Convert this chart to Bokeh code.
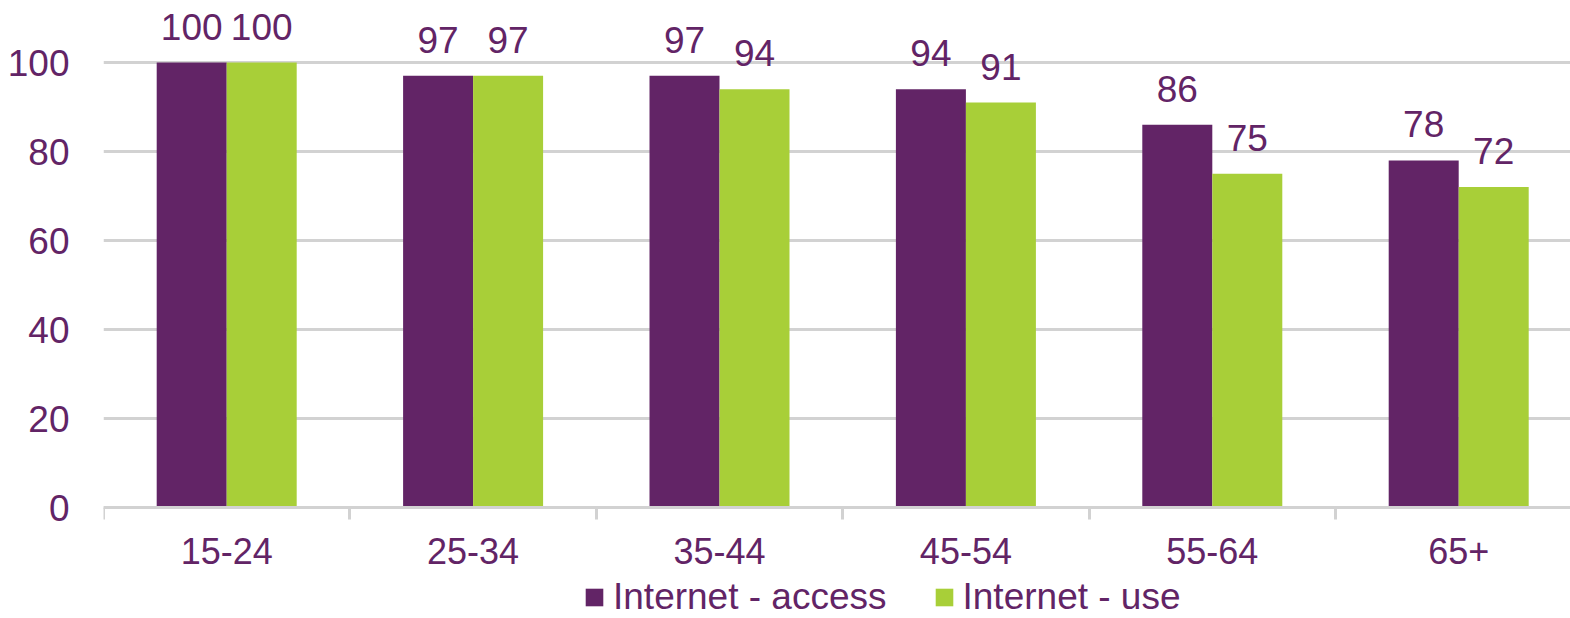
from bokeh.plotting import figure
from bokeh.models import ColumnDataSource, Range1d, FixedTicker, Legend, LegendItem, LinearAxis
from bokeh.transform import dodge
from bokeh.core.properties import value
from bokeh.embed import file_html
from bokeh.resources import INLINE
import numpy as np

categories = ["15-24", "25-34", "35-44", "45-54", "55-64", "65+"]
internet_access = [100, 97, 97, 94, 86, 78]
internet_use = [100, 97, 94, 91, 75, 72]
y_ticks = [0, 20, 40, 60, 80, 100]

PURPLE = "#622466"
GREEN = "#A8CF38"
GRID = "#D2D2D2"
FONT = "Liberation Sans"

xc = (np.arange(len(categories)) + 0.5).tolist()
src = ColumnDataSource(dict(x=xc, access=internet_access, use=internet_use,
                            access_t=[str(v) for v in internet_access],
                            use_t=[str(v) for v in internet_use]))

W, H = 1570, 618
left = 103
zero_px, hundred_px = 507, 62
px_per_unit = (zero_px - hundred_px) / 100.0
y_end = zero_px / px_per_unit
y_start = -(H - zero_px) / px_per_unit
cat_w = 246.4
x_end = (W - left) / cat_w

p = figure(width=W, height=H, output_backend="svg", toolbar_location=None,
           x_range=Range1d(0, x_end), y_range=Range1d(y_start, y_end),
           x_axis_location=None,
           min_border_left=left, min_border_right=0, min_border_top=0,
           min_border_bottom=0)
p.outline_line_color = None
p.background_fill_color = "white"
p.border_fill_color = "white"

bw = 70 / cat_w
off = bw / 2
r1 = p.vbar(x=dodge("x", -off, range=p.x_range), top="access", width=bw, source=src,
            fill_color=PURPLE, line_color=None)
r2 = p.vbar(x=dodge("x", off, range=p.x_range), top="use", width=bw, source=src,
            fill_color=GREEN, line_color=None)

p.text(x=dodge("x", -off, range=p.x_range), y="access", text="access_t", source=src,
       text_align="center", text_baseline="alphabetic", y_offset=-36,
       text_font=value(FONT), text_font_size="37px", text_color=PURPLE)
p.text(x=dodge("x", off, range=p.x_range), y="use", text="use_t", source=src,
       text_align="center", text_baseline="alphabetic", y_offset=-36,
       text_font=value(FONT), text_font_size="37px", text_color=PURPLE)

# y axis
p.yaxis.ticker = FixedTicker(ticks=y_ticks)
p.yaxis.axis_line_color = None
p.yaxis.major_tick_line_color = None
p.yaxis.minor_tick_line_color = None
p.yaxis.major_label_standoff = 28
p.yaxis.major_label_text_font = FONT
p.yaxis.major_label_text_font_size = "37px"
p.yaxis.major_label_text_color = PURPLE

p.ygrid.ticker = FixedTicker(ticks=y_ticks)
p.ygrid.grid_line_color = GRID
p.ygrid.grid_line_width = 3
p.xgrid.grid_line_color = None

# x axis drawn at y = 0 inside the frame
xaxis = LinearAxis(fixed_location=0)
xaxis.ticker = FixedTicker(ticks=xc, minor_ticks=list(range(len(categories))))
xaxis.major_label_overrides = {x: c for x, c in zip(xc, categories)}
xaxis.axis_line_color = GRID
xaxis.axis_line_width = 3
xaxis.major_tick_line_color = None
xaxis.major_tick_out = 12
xaxis.major_tick_in = 0
xaxis.minor_tick_line_color = GRID
xaxis.minor_tick_line_width = 3
xaxis.minor_tick_out = 12
xaxis.minor_tick_in = 0
xaxis.major_label_standoff = 18
xaxis.major_label_text_font = FONT
xaxis.major_label_text_font_size = "36px"
xaxis.major_label_text_color = PURPLE
p.add_layout(xaxis, "below")

legend = Legend(items=[LegendItem(label="Internet - access", renderers=[r1]),
                       LegendItem(label="Internet - use", renderers=[r2])],
                location=(480, 0), orientation="horizontal")
legend.border_line_color = None
legend.background_fill_alpha = 0
legend.padding = 0
legend.margin = 0
legend.spacing = 46
legend.glyph_width = 22
legend.glyph_height = 22
legend.label_standoff = 8
legend.label_text_font = FONT
legend.label_text_font_size = "37px"
legend.label_text_color = PURPLE
p.add_layout(legend, "center")

open("out.html", "w").write(file_html(p, INLINE))
